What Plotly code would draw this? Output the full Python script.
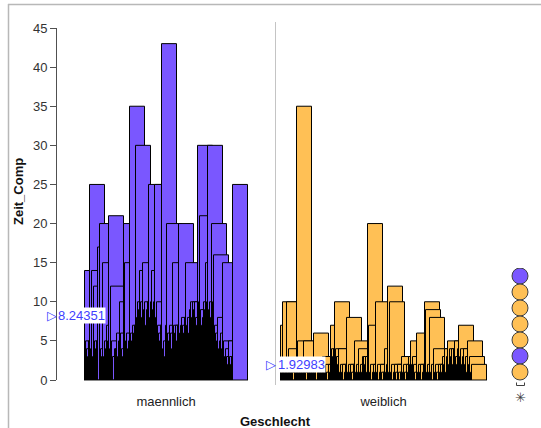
import numpy as np
import plotly.graph_objects as go

# ---------------- data ----------------
categories = ["maennlich", "weiblich"]

zeit_maennlich = [
    14, 5, 4, 3, 5, 25, 4, 14, 3, 12,
    5, 4, 5, 17, 0, 20, 4, 3, 15, 3,
    5, 4, 7, 5, 21, 4, 12, 5, 3, 0,
    4, 4, 6, 3, 5, 10, 6, 4, 3, 20,
    15, 5, 6, 4, 5, 35, 6, 5, 7, 6,
    7, 30, 8, 10, 9, 14, 10, 8, 15, 9,
    10, 7, 9, 10, 25, 8, 10, 14, 9, 10,
    25, 8, 10, 7, 6, 5, 7, 43, 4, 5,
    3, 7, 20, 6, 5, 7, 6, 4, 15, 7,
    6, 7, 5, 7, 20, 6, 7, 8, 7, 6,
    8, 15, 7, 8, 6, 9, 10, 8, 10, 9,
    10, 8, 7, 30, 10, 21, 9, 7, 8, 10,
    9, 15, 10, 30, 9, 10, 8, 20, 10, 16,
    7, 6, 5, 8, 4, 5, 6, 4, 15, 5,
    3, 4, 3, 2, 5, 3, 2, 3, 25,
]

zeit_weiblich = [
    7, 1, 10, 2, 1, 2, 10, 1, 4, 2,
    1, 2, 1, 0, 2, 1, 35, 5, 1, 2,
    1, 2, 1, 5, 2, 1, 0, 2, 1, 2,
    1, 2, 1, 6, 1, 2, 0, 1, 2, 1,
    2, 1, 3, 3, 1, 2, 1, 0, 2, 1,
    7, 4, 3, 4, 10, 4, 3, 2, 4, 1,
    2, 1, 2, 0, 1, 2, 8, 1, 2, 1,
    2, 1, 0, 2, 5, 1, 2, 1, 4, 1,
    2, 1, 3, 3, 2, 3, 1, 20, 7, 1,
    2, 0, 1, 2, 1, 10, 1, 2, 0, 1,
    2, 1, 0, 1, 4, 1, 2, 12, 1, 10,
    1, 2, 0, 1, 2, 1, 0, 2, 1, 0,
    1, 3, 1, 2, 1, 0, 2, 1, 3, 2,
    5, 2, 3, 2, 1, 0, 6, 1, 2, 1,
    2, 0, 1, 2, 10, 9, 1, 2, 1, 8,
    1, 2, 0, 4, 1, 2, 1, 0, 2, 1,
    2, 1, 3, 2, 4, 1, 3, 5, 2, 4,
    3, 4, 2, 4, 5, 3, 2, 4, 7, 3,
    4, 2, 3, 4, 2, 3, 1, 5, 2, 3,
    1, 2,
]

mean_labels = [8.24351, 1.92983]

y_ticks = [0, 5, 10, 15, 20, 25, 30, 35, 40, 45]

case_colors = ["#7a57ff", "#ffc055", "#ffc055", "#ffc055", "#ffc055", "#7a57ff", "#ffc055"]

# ---------------- layout constants ----------------
W, H = 541, 428
ML, MR, MT, MB = 57, 0, 28, 20
PW = W - ML - MR          # 484
PH = H - MT - MB          # 380
XSPAN = 433               # px width of main x axis
Y0PX = 380                # pixel row of y = 0
MEN_START = 27
WOMEN_START = 223
BAR_W = 15

PURPLE = "#7a57ff"
ORANGE = "#ffc055"
FONT = "Liberation Sans, Arial, sans-serif"
BLUE = "#4040ff"


def px_x(p):
    return (p - ML) / PW


def px_y(p):
    return (H - MB - p) / PH


fig = go.Figure()

groups = [
    (zeit_maennlich, MEN_START, PURPLE),
    (zeit_weiblich, WOMEN_START, ORANGE),
]
centers = []
spans = []
for vals, start, col in groups:
    xs = start + np.arange(len(vals))
    fig.add_trace(go.Bar(
        x=xs, y=vals, width=BAR_W, offset=0,
        marker=dict(color=col, line=dict(color="black", width=1)),
        showlegend=False, hoverinfo="skip",
    ))
    centers.append(start + (len(vals) - 1 + BAR_W) / 2)
    spans.append((start, start + len(vals) - 1 + BAR_W))

# case colour column at the right
fig.add_trace(go.Scatter(
    x=[0.5] * len(case_colors), y=list(range(len(case_colors))),
    mode="markers", xaxis="x2", yaxis="y2",
    marker=dict(size=16, color=case_colors, line=dict(color="#404040", width=1)),
    showlegend=False, hoverinfo="skip",
))

fig.update_layout(
    width=W, height=H,
    margin=dict(l=ML, r=MR, t=MT, b=MB),
    paper_bgcolor="white", plot_bgcolor="white",
    barmode="overlay",
    hovermode=False,
    font=dict(family=FONT, size=13, color="#222"),
    xaxis=dict(
        domain=[0, XSPAN / PW], range=[-0.5, XSPAN - 0.5],
        showgrid=False, zeroline=False, showline=False, ticks="",
        tickvals=centers, ticktext=categories,
        tickfont=dict(size=13, color="#222"),
        ticklabelstandoff=12,
    ),
    yaxis=dict(
        domain=[(H - MB - Y0PX) / PH, 1], range=[0, 45],
        showgrid=False, zeroline=False,
        showline=True, linecolor="#505050", linewidth=1,
        ticks="outside", ticklen=6, tickcolor="#505050",
        tickvals=y_ticks, tickfont=dict(size=13, color="#333"),
    ),
    xaxis2=dict(domain=[px_x(505), px_x(535)], range=[0, 1], visible=False, anchor="y2"),
    yaxis2=dict(domain=[0, px_y(268)], range=[-0.5 + (H - MB - 268) / 16, -0.5],
                visible=False, anchor="x2"),
)

shapes = []
# separator between the two groups
shapes.append(dict(type="line", xref="x", yref="paper", x0=218, x1=218,
                   y0=px_y(385), y1=px_y(22), line=dict(color="#c4c4c4", width=1)))
# grey base line under each group
for s0, s1 in spans:
    shapes.append(dict(type="line", xref="x", yref="paper", x0=s0 - 0.5, x1=s1 + 0.5,
                       y0=px_y(380.5), y1=px_y(380.5), line=dict(color="#8a8a8a", width=1)))
# window frame
shapes.append(dict(type="line", xref="paper", yref="paper", x0=px_x(8), x1=px_x(541),
                   y0=px_y(4.5), y1=px_y(4.5), line=dict(color="#b8b8b8", width=1.5)))
shapes.append(dict(type="line", xref="paper", yref="paper", x0=px_x(8.5), x1=px_x(8.5),
                   y0=px_y(4), y1=px_y(428), line=dict(color="#b8b8b8", width=1.5)))
# small bracket under the colour column
shapes.append(dict(type="path", xref="paper", yref="paper",
                   path=f"M {px_x(516.5)} {px_y(382.5)} L {px_x(516.5)} {px_y(385.5)} L {px_x(524.5)} {px_y(385.5)} L {px_x(524.5)} {px_y(382.5)}",
                   line=dict(color="#404040", width=1)))
fig.update_layout(shapes=shapes)

ann = []
# mean markers
label_pos = [(45, 57), (264, 277)]
for (tri_px, txt_px), m in zip(label_pos, mean_labels):
    ann.append(dict(xref="paper", yref="y", x=px_x(tri_px), y=m, text="▷",
                    showarrow=False, xanchor="left", yanchor="middle",
                    font=dict(size=13, color=BLUE, family="DejaVu Sans")))
    ann.append(dict(xref="paper", yref="y", x=px_x(txt_px), y=m, text=f"{m:.5f}",
                    showarrow=False, xanchor="left", yanchor="middle",
                    bgcolor="white", borderpad=0,
                    font=dict(size=13, color=BLUE, family=FONT)))
# axis titles
ann.append(dict(xref="paper", yref="paper", x=px_x(18), y=px_y(192), text="<b>Zeit_Comp</b>",
                textangle=-90, showarrow=False, xanchor="center", yanchor="middle",
                font=dict(size=13, color="#111", family=FONT)))
ann.append(dict(xref="paper", yref="paper", x=px_x(275), y=px_y(421), text="<b>Geschlecht</b>",
                showarrow=False, xanchor="center", yanchor="middle",
                font=dict(size=13, color="#111", family=FONT)))
# star glyph
ann.append(dict(xref="paper", yref="paper", x=px_x(520.5), y=px_y(397), text="✳",
                showarrow=False, xanchor="center", yanchor="middle",
                font=dict(size=13, color="#404040", family="DejaVu Sans")))
fig.update_layout(annotations=ann)

fig.write_html("out.html", config={"displayModeBar": False},
               post_script="document.body.style.margin='0px';")
